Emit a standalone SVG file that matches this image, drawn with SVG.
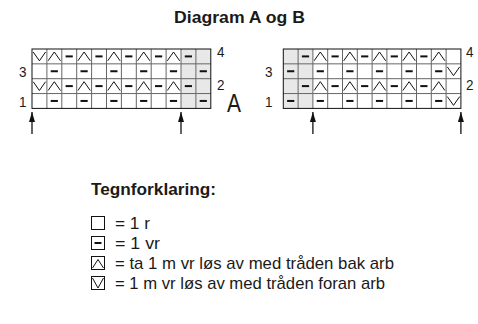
<svg xmlns="http://www.w3.org/2000/svg" xmlns:xlink="http://www.w3.org/1999/xlink" width="478" height="324" viewBox="0 0 478 324">
  <style>
    text { font-family: "Liberation Sans", Arial, sans-serif; fill: #1a1a1a; }
    .title { font-size: 17px; font-weight: bold; }
    .num { font-size: 15px; }
    .big { font-size: 25px; }
    .leg { font-size: 17px; }
    .gray { fill: #e8e8e8; }
    .inner { stroke: #666; stroke-width: 1; fill: none; }
    .outer { stroke: #111; stroke-width: 1; fill: none; }
    .sym { stroke: #111; stroke-width: 1; fill: none; }
    .dash { stroke: #111; stroke-width: 2; fill: none; }
    .arrow { stroke: #111; stroke-width: 1.3; fill: none; }
  </style>
  <defs>
    <path id="up" class="sym" d="M1.2,11.8 L7.4,3 L13.6,11.8"/>
    <path id="dn" class="sym" d="M1.2,3 L7.4,11.8 L13.6,3"/>
    <path id="ds" class="dash" d="M3.8,7.4 H11"/>
    <marker id="ah" viewBox="0 0 10 6" refX="10" refY="3" markerWidth="10" markerHeight="6" markerUnits="userSpaceOnUse" orient="auto">
      <path d="M0,0 L10,3 L0,6 Z" fill="#111"/>
    </marker>
  </defs>

  <text class="title" x="174" y="23" textLength="131" lengthAdjust="spacingAndGlyphs">Diagram A og B</text>

  <!-- Chart A -->
  <g id="chartA">
    <rect class="gray" x="181" y="49" width="29.8" height="59.4"/>
    <!-- row 4 -->
    <use xlink:href="#dn" x="32" y="49"/>
    <use xlink:href="#up" x="46.9" y="49"/>
    <use xlink:href="#ds" x="61.8" y="49"/>
    <use xlink:href="#up" x="76.7" y="49"/>
    <use xlink:href="#ds" x="91.6" y="49"/>
    <use xlink:href="#up" x="106.5" y="49"/>
    <use xlink:href="#ds" x="121.4" y="49"/>
    <use xlink:href="#up" x="136.3" y="49"/>
    <use xlink:href="#ds" x="151.2" y="49"/>
    <use xlink:href="#up" x="166.1" y="49"/>
    <use xlink:href="#ds" x="181" y="49"/>
    <!-- row 3 -->
    <use xlink:href="#ds" x="46.9" y="63.85"/>
    <use xlink:href="#ds" x="76.7" y="63.85"/>
    <use xlink:href="#ds" x="106.5" y="63.85"/>
    <use xlink:href="#ds" x="136.3" y="63.85"/>
    <use xlink:href="#ds" x="166.1" y="63.85"/>
    <use xlink:href="#ds" x="195.9" y="63.85"/>
    <!-- row 2 -->
    <use xlink:href="#dn" x="32" y="78.7"/>
    <use xlink:href="#up" x="46.9" y="78.7"/>
    <use xlink:href="#ds" x="61.8" y="78.7"/>
    <use xlink:href="#up" x="76.7" y="78.7"/>
    <use xlink:href="#ds" x="91.6" y="78.7"/>
    <use xlink:href="#up" x="106.5" y="78.7"/>
    <use xlink:href="#ds" x="121.4" y="78.7"/>
    <use xlink:href="#up" x="136.3" y="78.7"/>
    <use xlink:href="#ds" x="151.2" y="78.7"/>
    <use xlink:href="#up" x="166.1" y="78.7"/>
    <use xlink:href="#ds" x="181" y="78.7"/>
    <!-- row 1 -->
    <use xlink:href="#ds" x="46.9" y="93.55"/>
    <use xlink:href="#ds" x="76.7" y="93.55"/>
    <use xlink:href="#ds" x="106.5" y="93.55"/>
    <use xlink:href="#ds" x="136.3" y="93.55"/>
    <use xlink:href="#ds" x="166.1" y="93.55"/>
    <use xlink:href="#ds" x="195.9" y="93.55"/>
    <path class="inner" d="M46.9,49V108.4M61.8,49V108.4M76.7,49V108.4M91.6,49V108.4M106.5,49V108.4M121.4,49V108.4M136.3,49V108.4M151.2,49V108.4M166.1,49V108.4M181,49V108.4M195.9,49V108.4M32,63.85H210.8M32,78.7H210.8M32,93.55H210.8"/>
    <rect class="outer" x="32" y="49" width="178.8" height="59.4"/>
    <text class="num" x="19" y="77" textLength="7.5" lengthAdjust="spacingAndGlyphs">3</text>
    <text class="num" x="19" y="107" textLength="7.5" lengthAdjust="spacingAndGlyphs">1</text>
    <text class="num" x="217" y="57" textLength="7.5" lengthAdjust="spacingAndGlyphs">4</text>
    <text class="num" x="217" y="90" textLength="7.5" lengthAdjust="spacingAndGlyphs">2</text>
    <text class="big" x="227" y="112" textLength="14" lengthAdjust="spacingAndGlyphs">A</text>
  </g>

  <!-- Chart B -->
  <g id="chartB">
    <rect class="gray" x="283.3" y="49" width="29.6" height="59.4"/>
    <!-- row 4 -->
    <use xlink:href="#ds" x="298.1" y="49"/>
    <use xlink:href="#up" x="312.9" y="49"/>
    <use xlink:href="#ds" x="327.7" y="49"/>
    <use xlink:href="#up" x="342.5" y="49"/>
    <use xlink:href="#ds" x="357.3" y="49"/>
    <use xlink:href="#up" x="372.1" y="49"/>
    <use xlink:href="#ds" x="386.9" y="49"/>
    <use xlink:href="#up" x="401.7" y="49"/>
    <use xlink:href="#ds" x="416.5" y="49"/>
    <use xlink:href="#up" x="431.3" y="49"/>
    <!-- row 3 -->
    <use xlink:href="#ds" x="283.3" y="63.85"/>
    <use xlink:href="#ds" x="312.9" y="63.85"/>
    <use xlink:href="#ds" x="342.5" y="63.85"/>
    <use xlink:href="#ds" x="372.1" y="63.85"/>
    <use xlink:href="#ds" x="401.7" y="63.85"/>
    <use xlink:href="#ds" x="431.3" y="63.85"/>
    <use xlink:href="#dn" x="446.1" y="63.85"/>
    <!-- row 2 -->
    <use xlink:href="#ds" x="298.1" y="78.7"/>
    <use xlink:href="#up" x="312.9" y="78.7"/>
    <use xlink:href="#ds" x="327.7" y="78.7"/>
    <use xlink:href="#up" x="342.5" y="78.7"/>
    <use xlink:href="#ds" x="357.3" y="78.7"/>
    <use xlink:href="#up" x="372.1" y="78.7"/>
    <use xlink:href="#ds" x="386.9" y="78.7"/>
    <use xlink:href="#up" x="401.7" y="78.7"/>
    <use xlink:href="#ds" x="416.5" y="78.7"/>
    <use xlink:href="#up" x="431.3" y="78.7"/>
    <!-- row 1 -->
    <use xlink:href="#ds" x="283.3" y="93.55"/>
    <use xlink:href="#ds" x="312.9" y="93.55"/>
    <use xlink:href="#ds" x="342.5" y="93.55"/>
    <use xlink:href="#ds" x="372.1" y="93.55"/>
    <use xlink:href="#ds" x="401.7" y="93.55"/>
    <use xlink:href="#ds" x="431.3" y="93.55"/>
    <use xlink:href="#dn" x="446.1" y="93.55"/>
    <path class="inner" d="M298.1,49V108.4M312.9,49V108.4M327.7,49V108.4M342.5,49V108.4M357.3,49V108.4M372.1,49V108.4M386.9,49V108.4M401.7,49V108.4M416.5,49V108.4M431.3,49V108.4M446.1,49V108.4M283.3,63.85H460.9M283.3,78.7H460.9M283.3,93.55H460.9"/>
    <rect class="outer" x="283.3" y="49" width="177.6" height="59.4"/>
    <text class="num" x="265" y="77" textLength="7.5" lengthAdjust="spacingAndGlyphs">3</text>
    <text class="num" x="265" y="107" textLength="7.5" lengthAdjust="spacingAndGlyphs">1</text>
    <text class="num" x="466" y="57" textLength="7.5" lengthAdjust="spacingAndGlyphs">4</text>
    <text class="num" x="466" y="90" textLength="7.5" lengthAdjust="spacingAndGlyphs">2</text>
  </g>

  <!-- Repeat arrows -->
  <g id="connectors">
    <path class="arrow" d="M32,134 V112" marker-end="url(#ah)"/>
    <path class="arrow" d="M181,134 V112" marker-end="url(#ah)"/>
    <path class="arrow" d="M312.9,134 V112" marker-end="url(#ah)"/>
    <path class="arrow" d="M460.9,134 V112" marker-end="url(#ah)"/>
  </g>

  <!-- Key -->
  <g id="legend">
    <text class="title" x="91" y="195" textLength="125" lengthAdjust="spacingAndGlyphs">Tegnforklaring:</text>
    <g id="key-knit">
      <rect class="outer" x="91.5" y="216.5" width="13" height="13"/>
      <text class="leg" x="115" y="229" textLength="35" lengthAdjust="spacingAndGlyphs">= 1 r</text>
    </g>
    <g id="key-purl">
      <rect class="outer" x="91.5" y="236.5" width="13" height="13"/>
      <path class="dash" d="M94.5,243 H101.5"/>
      <text class="leg" x="115" y="249" textLength="45" lengthAdjust="spacingAndGlyphs">= 1 vr</text>
    </g>
    <g id="key-up">
      <rect class="outer" x="91.5" y="256.5" width="13" height="13"/>
      <path class="sym" d="M92.5,268 L98,259.5 L103.5,268"/>
      <text class="leg" x="115" y="269" textLength="279" lengthAdjust="spacingAndGlyphs">= ta 1 m vr løs av med tråden bak arb</text>
    </g>
    <g id="key-down">
      <rect class="outer" x="91.5" y="276.5" width="13" height="13"/>
      <path class="sym" d="M92.5,278 L98,288 L103.5,278"/>
      <text class="leg" x="115" y="289" textLength="270" lengthAdjust="spacingAndGlyphs">= 1 m vr løs av med tråden foran arb</text>
    </g>
  </g>
</svg>
